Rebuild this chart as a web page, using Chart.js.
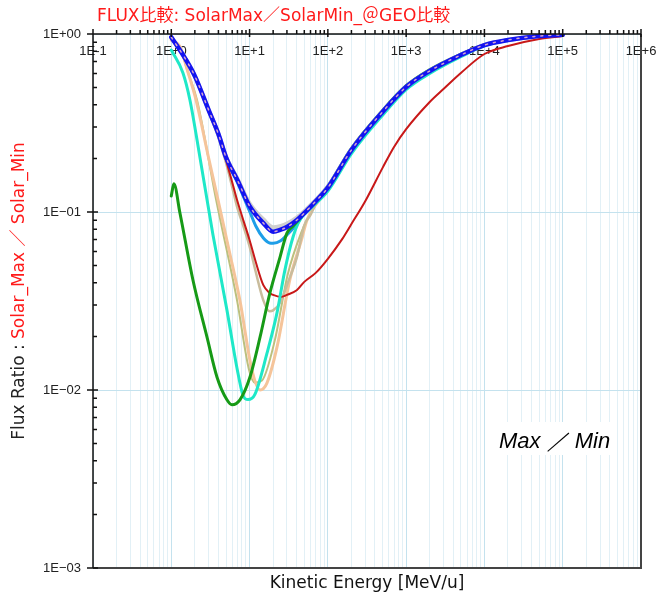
<!DOCTYPE html>
<html>
<head>
<meta charset="utf-8">
<script src="https://cdn.jsdelivr.net/npm/chart.js@4.4.1/dist/chart.umd.min.js"></script>
<style>
  html, body { margin: 0; padding: 0; background: #fff; }
  #wrap { width: 657px; height: 598px; }
</style>
</head>
<body>
<div id="wrap"><canvas id="chart-flux" width="657" height="598"></canvas></div>
<script>
// decade labels
const xTickLabels = ['1E-1', '1E+0', '1E+1', '1E+2', '1E+3', '1E+4', '1E+5', '1E+6'];
const yTickLabels = ['1E−03', '1E−02', '1E−01', '1E+00'];

// Flux ratio (max / min) vs kinetic energy [MeV/u], one pair of arrays per curve
const blueE = [1, 1.5, 2, 3, 4, 5, 7, 10, 15, 20, 25, 30, 40, 50, 70, 100, 200, 500, 1000, 2000, 5000, 1e4, 2e4, 5e4, 1e5];
const blueR = [0.96, 0.73, 0.58, 0.374, 0.274, 0.203, 0.151, 0.108, 0.0866, 0.0775, 0.0795, 0.0823, 0.090, 0.0986, 0.115, 0.137, 0.223, 0.365, 0.504, 0.62, 0.762, 0.867, 0.925, 0.974, 0.99];

const grayE = [1, 1.5, 2, 3, 4, 5, 7, 10, 15, 20, 25, 30, 40, 50, 70, 100, 200, 500, 1000, 2000, 5000, 1e4, 2e4, 5e4, 1e5];
const grayR = [0.96, 0.73, 0.58, 0.374, 0.275, 0.205, 0.154, 0.112, 0.091, 0.082, 0.0835, 0.086, 0.093, 0.101, 0.117, 0.139, 0.225, 0.367, 0.506, 0.622, 0.764, 0.868, 0.926, 0.975, 0.99];

const skyE = [1, 1.5, 2, 3, 4, 5, 7, 10, 12, 15, 18, 20, 25, 30, 40, 50, 70, 100, 200, 500, 1000, 2000, 5000, 1e4, 2e4, 5e4, 1e5];
const skyR = [0.96, 0.73, 0.58, 0.374, 0.274, 0.2, 0.146, 0.101, 0.0834, 0.0714, 0.067, 0.0668, 0.069, 0.0742, 0.0856, 0.098, 0.114, 0.136, 0.222, 0.363, 0.502, 0.618, 0.76, 0.865, 0.924, 0.973, 0.99];

const redE = [1, 1.5, 2, 3, 4, 5, 6, 7, 8, 10, 12, 15, 18, 20, 25, 30, 40, 50, 70, 100, 150, 200, 300, 500, 700, 1000, 2000, 3000, 5000, 1e4, 2e4, 5e4, 1e5];
const redR = [0.96, 0.73, 0.58, 0.374, 0.274, 0.196, 0.147, 0.115, 0.095, 0.0696, 0.0524, 0.0388, 0.0351, 0.0342, 0.0333, 0.0342, 0.0363, 0.0405, 0.0455, 0.0546, 0.0697, 0.0856, 0.115, 0.177, 0.232, 0.292, 0.415, 0.491, 0.604, 0.772, 0.856, 0.937, 0.974];

const tanE = [1, 1.5, 2, 3, 4, 5, 6, 7, 8, 10, 12, 15, 18, 20, 25, 30, 40, 50, 60, 70, 100, 200, 500, 1000, 2000, 5000, 1e4, 2e4, 5e4, 1e5];
const tanR = [0.95, 0.72, 0.57, 0.365, 0.262, 0.189, 0.138, 0.105, 0.0881, 0.064, 0.046, 0.0319, 0.0277, 0.028, 0.0313, 0.0389, 0.0552, 0.0842, 0.0963, 0.111, 0.134, 0.22, 0.36, 0.5, 0.615, 0.758, 0.865, 0.924, 0.973, 0.99];

const peachE = [1, 1.3, 1.6, 2.07, 3, 3.95, 5.5, 7.5, 10.7, 13.6, 16.6, 22.4, 32.7, 46, 54, 70, 100, 200, 500, 1000, 2000, 5000, 1e4, 2e4, 5e4, 1e5];
const peachR = [0.925, 0.845, 0.63, 0.426, 0.201, 0.117, 0.0604, 0.0321, 0.013, 0.0100, 0.0109, 0.0174, 0.0417, 0.0697, 0.09, 0.11, 0.133, 0.22, 0.36, 0.5, 0.615, 0.758, 0.865, 0.924, 0.973, 0.99];

const oliveE = [1, 1.3, 1.6, 2.13, 3.74, 6.9, 9.83, 11.7, 14.4, 21, 30.6, 46, 55.8, 70, 100, 200, 500, 1000, 2000, 5000, 1e4, 2e4, 5e4, 1e5];
const oliveR = [0.92, 0.84, 0.625, 0.426, 0.117, 0.0321, 0.013, 0.011, 0.0113, 0.019, 0.0443, 0.0772, 0.0924, 0.11, 0.133, 0.22, 0.36, 0.5, 0.615, 0.758, 0.865, 0.924, 0.973, 0.99];

const cyanE = [1, 1.41, 1.73, 2.33, 3.41, 5.14, 6.9, 8.24, 9.54, 11.7, 16.7, 22.4, 28.3, 35.9, 44, 59.2, 100, 200, 500, 1000, 2000, 5000, 1e4, 2e4, 5e4, 1e5];
const cyanR = [0.813, 0.604, 0.426, 0.201, 0.0743, 0.0281, 0.0133, 0.00935, 0.00883, 0.00945, 0.0161, 0.0271, 0.0473, 0.0724, 0.0903, 0.104, 0.131, 0.213, 0.35, 0.487, 0.6, 0.745, 0.857, 0.92, 0.972, 0.99];

const greenE = [1, 1.08, 1.29, 1.89, 2.86, 3.84, 5.14, 5.96, 7.53, 10.1, 13.6, 18.2, 24.5, 30, 35.9, 44, 60, 100, 200, 500, 1000, 2000, 5000, 1e4, 2e4, 5e4, 1e5];
const greenR = [0.123, 0.144, 0.0987, 0.0415, 0.0198, 0.0118, 0.00881, 0.00827, 0.00881, 0.0118, 0.0198, 0.0351, 0.0558, 0.0761, 0.0834, 0.092, 0.108, 0.14, 0.228, 0.372, 0.512, 0.63, 0.77, 0.872, 0.928, 0.975, 0.99];

const isDecade = v => Math.abs(Math.log10(v) - Math.round(Math.log10(v))) < 1e-6;

function logTicks(lo, hi) {
  const t = [];
  for (let e = lo; e < hi; e++) for (let m = 1; m <= 9; m++) t.push({ value: m * Math.pow(10, e) });
  t.push({ value: Math.pow(10, hi) });
  return t;
}

function curve(label, xs, ys, color, width, extra) {
  return Object.assign({
    label,
    data: xs.map((x, i) => ({ x, y: ys[i] })),
    borderColor: color,
    borderWidth: width,
    pointRadius: 0,
    fill: false,
    cubicInterpolationMode: 'monotone',
    borderJoinStyle: 'round',
    borderCapStyle: 'round'
  }, extra || {});
}

const gridMajor = '#c4e2ee', gridMinor = '#e2f0f6';
const sans = '"DejaVu Sans", Arial, sans-serif';

// frame, inner tick marks and free text
const decorPlugin = {
  id: 'decor',
  afterDraw(chart) {
    const { ctx, chartArea: a, scales } = chart;
    const xs = scales.x, ys = scales.y;
    ctx.save();

    // "Max / Min" box
    ctx.fillStyle = '#fff';
    ctx.fillRect(497, 422, 114, 33);
    ctx.fillStyle = '#000';
    ctx.font = 'italic 22px "Liberation Sans", Arial, sans-serif';
    ctx.textBaseline = 'alphabetic';
    ctx.textAlign = 'left';
    ctx.fillText('Max ／ Min', 499, 448);

    // frame
    ctx.strokeStyle = '#444';
    ctx.lineWidth = 2;
    ctx.beginPath();
    ctx.moveTo(a.right, a.top); ctx.lineTo(a.right, a.bottom + 1);
    ctx.moveTo(a.left, a.bottom); ctx.lineTo(a.right, a.bottom);
    ctx.stroke();

    ctx.strokeStyle = '#111';
    ctx.lineWidth = 1.5;
    ctx.beginPath();
    ctx.moveTo(a.left, a.top - 5); ctx.lineTo(a.left, a.bottom);
    ctx.moveTo(a.left - 5, a.top); ctx.lineTo(a.right, a.top);
    // top axis ticks
    xs.ticks.forEach(t => {
      const px = xs.getPixelForValue(t.value);
      if (isDecade(t.value)) { ctx.moveTo(px, a.top - 5); ctx.lineTo(px, a.top + 3); }
      else { ctx.moveTo(px, a.top - 4); ctx.lineTo(px, a.top); }
    });
    // left axis ticks
    ys.ticks.forEach(t => {
      const py = ys.getPixelForValue(t.value);
      if (isDecade(t.value)) { ctx.moveTo(a.left - 6, py); ctx.lineTo(a.left + 5, py); }
      else { ctx.moveTo(a.left, py); ctx.lineTo(a.left + 4, py); }
    });
    ctx.stroke();

    // title
    ctx.fillStyle = '#ff1a1a';
    ctx.font = '17px "DejaVu Sans", "Noto Sans CJK JP", sans-serif';
    ctx.fillText('FLUX比較: SolarMax／SolarMin_＠GEO比較', 97, 21);

    // x axis title
    ctx.fillStyle = '#111';
    ctx.font = '17px ' + sans;
    ctx.textAlign = 'center';
    ctx.fillText('Kinetic Energy [MeV/u]', (a.left + a.right) / 2, 588);

    // y axis title, two colours
    ctx.translate(24, 291);
    ctx.rotate(-Math.PI / 2);
    ctx.font = '17px "DejaVu Sans", "Noto Sans CJK JP", sans-serif';
    ctx.textAlign = 'left';
    const p1 = 'Flux Ratio : ', p2 = 'Solar_Max ／ Solar_Min';
    const w1 = ctx.measureText(p1).width, w2 = ctx.measureText(p2).width;
    const x0 = -(w1 + w2) / 2;
    ctx.fillStyle = '#222';
    ctx.fillText(p1, x0, 0);
    ctx.fillStyle = '#ff1a1a';
    ctx.fillText(p2, x0 + w1, 0);

    ctx.restore();
  }
};

new Chart(document.getElementById('chart-flux'), {
  type: 'line',
  data: {
    datasets: [
      curve('blue-dots', blueE, blueR, '#d6a6d0', 1.5, { borderDash: [2, 6] }),
      curve('blue', blueE, blueR, '#1414f0', 4.5),
      curve('gray', grayE, grayR, '#cfcfcf', 4),
      curve('green', greenE, greenR, '#169a16', 3),
      curve('cyan', cyanE, cyanR, '#1ee8c8', 3),
      curve('red', redE, redR, '#c81818', 2),
      curve('sky', skyE, skyR, '#1e9ee8', 3),
      curve('tan', tanE, tanR, '#c9bc9c', 2.5),
      curve('peach', peachE, peachR, '#f5c49a', 3),
      curve('olive', oliveE, oliveR, '#bcc07e', 2)
    ]
  },
  options: {
    responsive: false,
    animation: false,
    devicePixelRatio: 1,
    layout: { padding: { left: 0, top: 24, right: 16, bottom: 30 } },
    plugins: { legend: { display: false }, tooltip: { enabled: false }, title: { display: false } },
    scales: {
      x: {
        type: 'logarithmic',
        position: 'top',
        min: 0.1,
        max: 1e6,
        afterBuildTicks: s => { s.ticks = logTicks(-1, 6); },
        afterFit: s => { s.height = 10; s.paddingLeft = 0; s.paddingRight = 0; },
        grid: {
          drawTicks: false,
          color: c => (c.tick && isDecade(c.tick.value)) ? gridMajor : gridMinor,
          lineWidth: 1
        },
        border: { display: false },
        ticks: {
          mirror: true,
          padding: 10,
          autoSkip: false,
          maxRotation: 0,
          color: '#222',
          font: { size: 13, family: '"Liberation Sans", Arial, sans-serif' },
          callback: v => isDecade(v) ? xTickLabels[Math.round(Math.log10(v)) + 1] : ''
        }
      },
      y: {
        type: 'logarithmic',
        position: 'left',
        min: 1e-3,
        max: 1,
        afterBuildTicks: s => { s.ticks = logTicks(-3, 0); },
        afterFit: s => { s.width = 93; },
        grid: {
          drawTicks: false,
          color: c => (c.tick && isDecade(c.tick.value)) ? gridMajor : 'rgba(0,0,0,0)',
          lineWidth: 1
        },
        border: { display: false },
        ticks: {
          padding: 12,
          autoSkip: false,
          color: '#222',
          font: { size: 13, family: '"Liberation Sans", Arial, sans-serif' },
          callback: v => isDecade(v) ? yTickLabels[Math.round(Math.log10(v)) + 3] : ''
        }
      }
    }
  },
  plugins: [decorPlugin]
});
</script>
</body>
</html>
